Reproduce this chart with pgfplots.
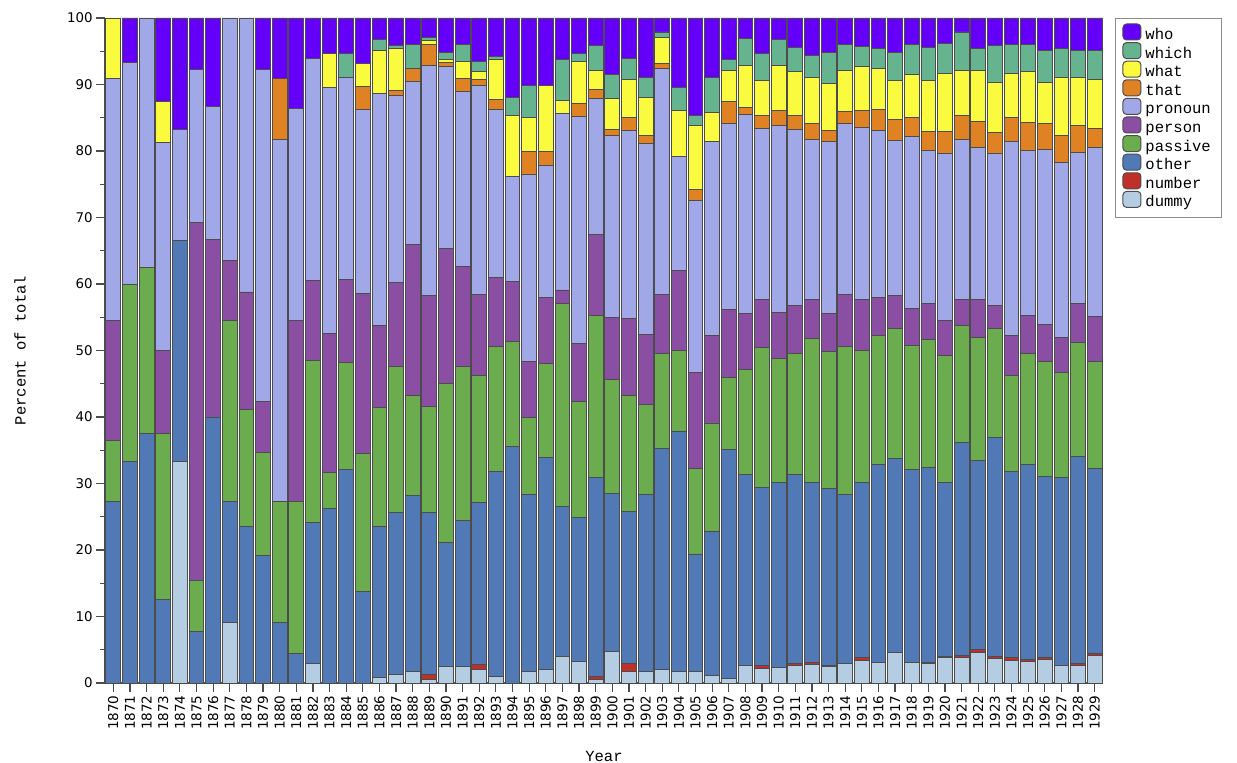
\documentclass[border=0pt]{standalone}
\usepackage{fontspec}
\setmainfont{Liberation Mono}
\newfontfamily\tickfont{DejaVu Sans}
\usepackage{pgfplots}
\usepackage{pgfplotstable}
\pgfplotsset{compat=1.18}
\definecolor{cwho}{RGB}{100,0,250}
\definecolor{cwhich}{RGB}{102,180,143}
\definecolor{cwhat}{RGB}{250,250,62}
\definecolor{cthat}{RGB}{222,130,35}
\definecolor{cpronoun}{RGB}{160,168,232}
\definecolor{cperson}{RGB}{138,79,163}
\definecolor{cpassive}{RGB}{106,172,78}
\definecolor{cother}{RGB}{80,121,182}
\definecolor{cnumber}{RGB}{192,48,42}
\definecolor{cdummy}{RGB}{181,205,227}

\pgfplotstableread{
year dummy number other passive person pronoun that what which who
1870 0 0 27.3 9.1 18.1 36.4 0 9.1 0 0
1871 0 0 33.3 26.7 0 33.3 0 0 0 6.7
1872 0 0 37.5 25 0 37.5 0 0 0 0
1873 0 0 12.5 25 12.5 31.25 0 6.25 0 12.5
1874 33.3 0 33.3 0 0 16.7 0 0 0 16.7
1875 0 0 7.7 7.7 53.8 23.1 0 0 0 7.7
1876 0 0 40 0 26.7 20 0 0 0 13.3
1877 9.1 0 18.2 27.2 9.1 36.4 0 0 0 0
1878 0 0 23.5 17.7 17.6 41.2 0 0 0 0
1879 0 0 19.2 15.4 7.7 50 0 0 0 7.7
1880 0 0 9.1 18.2 0 54.5 9.1 0 0 9.1
1881 0 0 4.5 22.8 27.2 31.9 0 0 0 13.6
1882 3.0 0 21.2 24.3 12.1 33.3 0 0 0 6.1
1883 0 0 26.3 5.3 21.0 36.9 0 5.2 0 5.3
1884 0 0 32.1 16.1 12.5 30.4 0 0 3.5 5.4
1885 0 0 13.8 20.7 24.1 27.6 3.5 3.4 0 6.9
1886 0.8 0 22.7 17.9 12.3 34.9 0 6.5 1.6 3.3
1887 1.3 0 24.3 22.0 12.7 28.0 0.8 6.3 0.4 4.2
1888 1.8 0 26.4 15.1 22.6 24.6 1.9 0 3.6 4.0
1889 0.6 0.7 24.3 16.0 16.7 34.6 3.1 0.6 0.4 3.0
1890 2.5 0 18.7 23.9 20.3 27.3 0.6 0.4 1.1 5.2
1891 2.5 0 22.0 23.1 15.0 26.3 2.0 2.5 2.6 4.0
1892 2.0 0.8 24.3 19.2 12.1 31.5 0.8 1.3 1.4 6.6
1893 1.0 0 30.8 18.8 10.4 25.3 1.4 6.1 0.4 5.8
1894 0 0 35.5 15.8 9.1 15.8 0 9.2 2.7 11.9
1895 1.7 0 26.6 11.6 8.4 28.2 3.4 5.1 4.9 10.1
1896 2.0 0 31.9 14.1 10.0 19.9 2.0 10.0 0 10.1
1897 4.0 0 22.5 30.5 2.1 26.5 0 2.0 6.2 6.2
1898 3.3 0 21.6 17.5 8.7 34.1 1.9 6.3 1.2 5.4
1899 0.5 0.5 29.9 24.4 12.2 20.4 1.4 2.8 3.8 4.1
1900 4.8 0 23.7 17.2 9.3 27.3 1.0 4.6 3.6 8.5
1901 1.8 1.1 22.9 17.5 11.5 28.3 1.9 5.8 3.1 6.1
1902 1.8 0 26.5 13.6 10.5 28.7 1.3 5.7 3.0 8.9
1903 2.0 0 33.3 14.3 8.8 34.0 0.8 3.9 0.8 2.1
1904 1.8 0 36.1 12.1 12.0 17.2 0 6.9 3.4 10.5
1905 1.7 0 17.7 12.9 14.4 25.9 1.6 9.6 1.5 14.7
1906 1.1 0 21.7 16.3 13.1 29.3 0 4.3 5.3 8.9
1907 0.7 0 34.4 10.9 10.1 28.1 3.2 4.7 1.6 6.3
1908 2.7 0 28.7 15.7 8.4 30.0 1.1 6.3 4.0 3.1
1909 2.2 0.4 26.8 21.0 7.3 25.7 1.9 5.3 4.0 5.4
1910 2.3 0 27.9 18.6 6.9 28.1 2.3 6.7 4.0 3.2
1911 2.7 0.3 28.3 18.3 7.1 26.6 2.1 6.5 3.7 4.4
1912 2.8 0.3 27.0 21.7 5.9 24.1 2.3 7.0 3.3 5.6
1913 2.5 0.2 26.6 20.5 5.7 25.9 1.7 7.0 4.7 5.2
1914 3.0 0 25.4 22.2 7.8 25.7 1.9 6.1 3.9 4.0
1915 3.4 0.4 26.3 19.9 7.7 25.9 2.5 6.6 3.0 4.3
1916 3.1 0 29.7 19.4 5.8 25.1 3.2 6.1 3.0 4.6
1917 4.6 0 29.2 19.5 5.0 23.3 3.2 5.8 4.2 5.2
1918 3.1 0 29.0 18.6 5.6 25.9 2.8 6.5 4.5 4.0
1919 2.9 0.2 29.3 19.3 5.3 23.1 2.9 7.6 5.0 4.4
1920 3.8 0.2 26.1 19.2 5.2 25.2 3.3 8.7 4.4 3.9
1921 3.8 0.4 31.9 17.6 4.0 24.1 3.5 6.8 5.8 2.1
1922 4.6 0.4 28.4 18.6 5.7 22.8 3.9 7.7 3.3 4.6
1923 3.7 0.3 32.9 16.4 3.5 22.9 3.1 7.5 5.6 4.1
1924 3.4 0.4 28.0 14.4 6.0 29.2 3.6 6.6 4.4 4.0
1925 3.3 0.3 29.2 16.7 5.8 24.8 4.2 7.7 4.0 4.0
1926 3.6 0.3 27.2 17.2 5.6 26.4 3.9 6.1 4.8 4.9
1927 2.7 0 28.2 15.8 5.3 26.3 4.0 8.8 4.3 4.6
1928 2.7 0.3 31.1 17.1 5.9 22.7 4.0 7.3 4.0 4.9
1929 4.2 0.2 27.9 16.1 6.7 25.4 2.9 7.3 4.4 4.9
}\data

\begin{document}
\begin{tikzpicture}
\pgfplotsset{lg/.style={legend image code/.code={\draw[##1,rounded corners=1.8bp,line width=0.5bp] (0bp,-2.2bp) rectangle (9bp,5.8bp);}}}
\begin{axis}[
  name=ax,
  scale only axis, width=499bp, height=332.5bp,
  ybar stacked, bar width=7.4bp,
  xmin=1869.5, xmax=1929.5, ymin=0, ymax=100,
  axis x line*=bottom, axis y line*=left,
  axis line style={black!70, line width=0.6bp},
  tick style={black!70, line width=0.6bp},
  xtick=data,
  xticklabel={\pgfmathprintnumber[fixed,precision=0,1000 sep={}]{\tick}},
  ytick={0,10,...,100}, minor y tick num=1,
  tick align=outside, major tick length=4.5bp, minor tick length=2.5bp,
  /pgf/number format/assume math mode=true,
  xticklabel style={rotate=90, anchor=east, font=\tickfont\fontsize{6.8}{6.8}\selectfont, inner sep=1.5bp},
  yticklabel style={font=\tickfont\fontsize{6.7}{6.7}\selectfont, inner sep=1.5bp},
  xlabel={Year}, ylabel={Percent of total},
  every axis x label/.style={at={(axis description cs:0.5,-0.111)}, anchor=center, font=\fontsize{7.8}{7.8}\selectfont},
  every axis y label/.style={at={(axis description cs:-0.085,0.5)}, rotate=90, anchor=center, font=\fontsize{7.8}{7.8}\selectfont},
  every axis plot/.append style={draw=black!70, line width=0.45bp},
  reverse legend,
  legend cell align=left,
  legend style={at={(1.012,1)}, anchor=north west, draw=black!45, line width=0.5bp,
    font=\fontsize{7.8}{7.8}\selectfont, inner xsep=3.5bp, inner ysep=2.5bp, row sep=-1.45bp,
    nodes={inner ysep=1bp, text height=5.7bp, text depth=1.7bp},
    /tikz/every even column/.append style={column sep=1bp}},
]
\addplot[fill=cdummy, lg] table[x=year, y=dummy]{\data};
\addlegendentry{dummy}
\addplot[fill=cnumber, lg] table[x=year, y=number]{\data};
\addlegendentry{number}
\addplot[fill=cother, lg] table[x=year, y=other]{\data};
\addlegendentry{other}
\addplot[fill=cpassive, lg] table[x=year, y=passive]{\data};
\addlegendentry{passive}
\addplot[fill=cperson, lg] table[x=year, y=person]{\data};
\addlegendentry{person}
\addplot[fill=cpronoun, lg] table[x=year, y=pronoun]{\data};
\addlegendentry{pronoun}
\addplot[fill=cthat, lg] table[x=year, y=that]{\data};
\addlegendentry{that}
\addplot[fill=cwhat, lg] table[x=year, y=what]{\data};
\addlegendentry{what}
\addplot[fill=cwhich, lg] table[x=year, y=which]{\data};
\addlegendentry{which}
\addplot[fill=cwho, lg] table[x=year, y=who]{\data};
\addlegendentry{who}
\end{axis}
\pgfresetboundingbox
\path[use as bounding box] ([xshift=-52.5bp,yshift=-40bp]ax.south west) rectangle ([xshift=67bp,yshift=9bp]ax.north east);
\end{tikzpicture}
\end{document}
